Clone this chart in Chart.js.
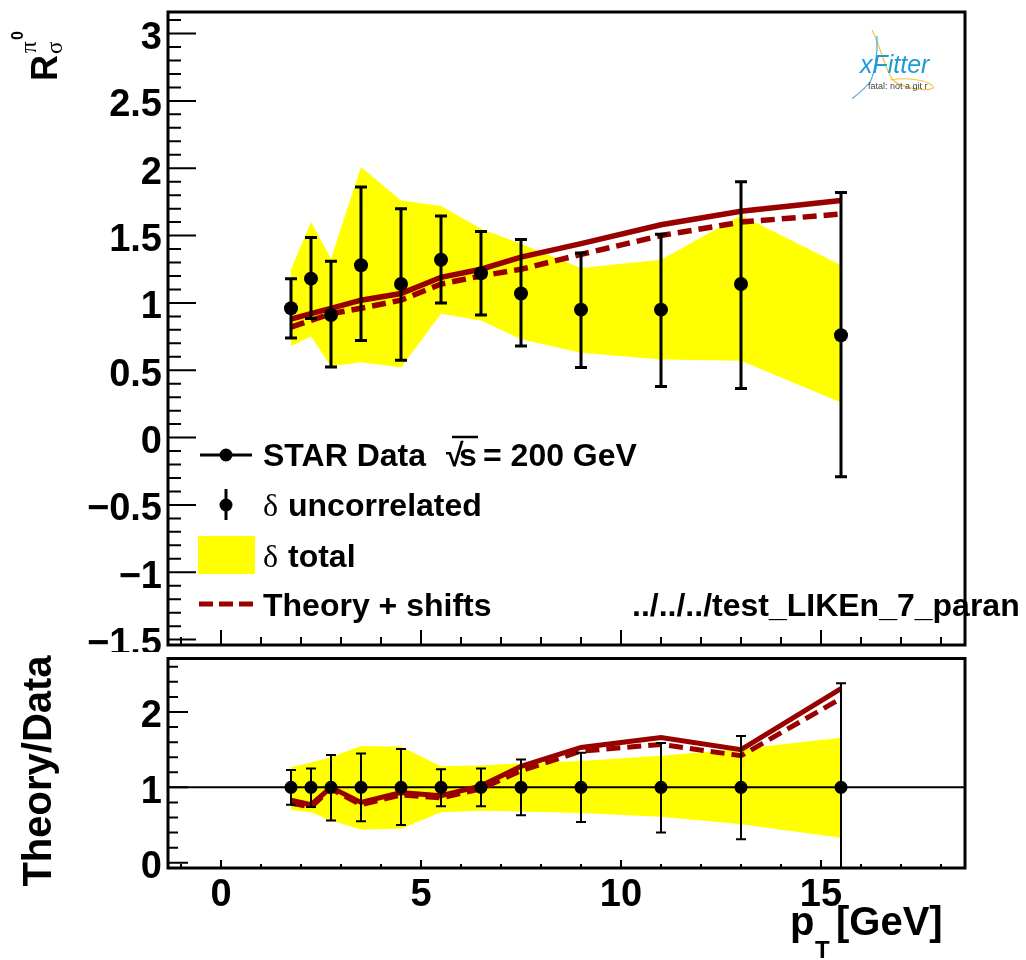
<!DOCTYPE html>
<html>
<head>
<meta charset="utf-8">
<script src="https://cdn.jsdelivr.net/npm/chart.js@4.4.0/dist/chart.umd.min.js"></script>
<style>
body { margin: 0; background: #fff; }
#wrap { position: relative; width: 1026px; height: 960px; overflow: hidden; }
canvas { position: absolute; left: 0; }
</style>
</head>
<body>
<div id="wrap">
<canvas id="topChart" width="1026" height="652" style="top:0"></canvas>
<canvas id="ratioChart" width="1026" height="308" style="top:652px"></canvas>
</div>
<script>
// pT bins [GeV]
const pT = [1.75, 2.25, 2.75, 3.5, 4.5, 5.5, 6.5, 7.5, 9, 11, 13, 15.5];

// upper panel
const dataVal = [0.96, 1.18, 0.91, 1.28, 1.14, 1.32, 1.22, 1.07, 0.95, 0.95, 1.14, 0.76];
const uncHi = [1.18, 1.485, 1.31, 1.86, 1.70, 1.645, 1.53, 1.47, 1.37, 1.51, 1.90, 1.82];
const uncLo = [0.74, 0.885, 0.525, 0.72, 0.575, 1.0, 0.91, 0.68, 0.52, 0.38, 0.365, -0.29];
const totHi = [1.25, 1.60, 1.33, 2.01, 1.76, 1.72, 1.55, 1.44, 1.26, 1.32, 1.65, 1.28];
const totLo = [0.68, 0.75, 0.53, 0.56, 0.52, 0.92, 0.87, 0.73, 0.63, 0.58, 0.57, 0.26];
const theory = [0.88, 0.92, 0.96, 1.02, 1.07, 1.19, 1.25, 1.34, 1.44, 1.58, 1.68, 1.76];
const theoryShift = [0.82, 0.87, 0.92, 0.96, 1.02, 1.14, 1.20, 1.25, 1.36, 1.50, 1.60, 1.66];

// ratio panel (theory/data)
const ratioVal = [1, 1, 1, 1, 1, 1, 1, 1, 1, 1, 1, 1];
const ratioUncHi = [1.23, 1.25, 1.43, 1.45, 1.51, 1.24, 1.25, 1.37, 1.46, 1.59, 1.68, 2.38];
const ratioUncLo = [0.77, 0.74, 0.56, 0.55, 0.50, 0.75, 0.75, 0.63, 0.54, 0.40, 0.31, -0.39];
const ratioTotHi = [1.27, 1.33, 1.40, 1.55, 1.54, 1.28, 1.29, 1.32, 1.35, 1.42, 1.51, 1.66];
const ratioTotLo = [0.70, 0.67, 0.56, 0.44, 0.45, 0.67, 0.69, 0.68, 0.66, 0.61, 0.51, 0.33];
const ratioTheory = [0.83, 0.77, 1.0, 0.80, 0.93, 0.89, 1.02, 1.28, 1.53, 1.66, 1.50, 2.31];
const ratioTheoryShift = [0.79, 0.74, 0.98, 0.77, 0.90, 0.86, 0.98, 1.22, 1.48, 1.57, 1.42, 2.18];

// axes
const xRange = [-1.325, 18.6];
const xTicks = [0, 5, 10, 15];
const yRangeTop = [-1.54, 3.16];
const yTicksTop = [-1.5, -1, -0.5, 0, 0.5, 1, 1.5, 2, 2.5, 3];
const yRangeRatio = [-0.07, 2.71];
const yTicksRatio = [0, 1, 2];

const YELLOW = '#ffff00';
const DARKRED = '#990000';
const FONT = '"Liberation Sans", Arial, sans-serif';

const pts = (ys) => pT.map((x, i) => ({ x: x, y: ys[i] }));
const fmt = (v) => (v < 0 ? '\u2212' : '') + Math.abs(v);

// frame with ROOT-like inward ticks
const rootFrame = {
  id: 'rootFrame',
  afterDatasetsDraw(chart, args, o) {
    const ctx = chart.ctx, a = chart.chartArea;
    const xs = chart.scales.x, ys = chart.scales.y;
    ctx.save();
    ctx.strokeStyle = '#000';
    ctx.lineWidth = 2;
    ctx.beginPath();
    for (let v = Math.ceil(xs.min); v <= xs.max; v++) {
      const px = xs.getPixelForValue(v);
      const len = v % 5 === 0 ? o.xMajor : o.xMinor;
      ctx.moveTo(px, a.bottom);
      ctx.lineTo(px, a.bottom - len);
    }
    const n0 = Math.ceil(ys.min / o.yMinorStep - 1e-9);
    const n1 = Math.floor(ys.max / o.yMinorStep + 1e-9);
    for (let k = n0; k <= n1; k++) {
      const v = k * o.yMinorStep;
      const r = v / o.yMajorStep;
      const major = Math.abs(r - Math.round(r)) < 1e-6;
      const py = ys.getPixelForValue(v);
      ctx.moveTo(a.left, py);
      ctx.lineTo(a.left + (major ? o.yMajor : o.yMinor), py);
    }
    ctx.stroke();
    ctx.lineWidth = 3;
    ctx.strokeRect(a.left, a.top, a.right - a.left, a.bottom - a.top);
    ctx.restore();
  }
};

// vertical error bars under the data markers
const errorBars = {
  id: 'errorBars',
  beforeDatasetDraw(chart, args) {
    const ds = chart.data.datasets[args.index];
    if (!ds.errHi) return;
    const ctx = chart.ctx, a = chart.chartArea;
    const xs = chart.scales.x, ys = chart.scales.y;
    const cap = ds.errCap;
    ctx.save();
    ctx.beginPath();
    ctx.rect(a.left, a.top, a.right - a.left, a.bottom - a.top);
    ctx.clip();
    ctx.strokeStyle = '#000';
    ctx.lineWidth = ds.errWidth;
    ds.data.forEach((p, i) => {
      const x = xs.getPixelForValue(p.x);
      const yH = ys.getPixelForValue(ds.errHi[i]);
      const yL = ys.getPixelForValue(ds.errLo[i]);
      ctx.beginPath();
      ctx.moveTo(x, yL); ctx.lineTo(x, yH);
      ctx.moveTo(x - cap, yH); ctx.lineTo(x + cap, yH);
      ctx.moveTo(x - cap, yL); ctx.lineTo(x + cap, yL);
      ctx.stroke();
    });
    ctx.restore();
  }
};

// legend, titles and logo for the upper pad
const topDecor = {
  id: 'topDecor',
  afterDraw(chart) {
    const ctx = chart.ctx;
    ctx.save();
    ctx.fillStyle = '#000';
    ctx.strokeStyle = '#000';
    ctx.textBaseline = 'alphabetic';
    ctx.textAlign = 'left';

    // y title R_sigma^{pi0}
    ctx.save();
    ctx.translate(57, 81);
    ctx.rotate(-Math.PI / 2);
    ctx.font = 'bold 36px ' + FONT;
    ctx.fillText('R', 0, 0);
    ctx.font = '23px "Liberation Serif", serif';
    ctx.fillText('\u03c3', 27, 5);
    ctx.fillText('\u03c0', 28, -21);
    ctx.font = 'bold 16px ' + FONT;
    ctx.fillText('0', 41, -34);
    ctx.restore();

    // legend
    ctx.lineWidth = 3;
    ctx.beginPath(); ctx.moveTo(200, 455); ctx.lineTo(252, 455); ctx.stroke();
    ctx.beginPath(); ctx.arc(226, 455, 6.5, 0, Math.PI * 2); ctx.fill();
    ctx.font = 'bold 32px ' + FONT;
    ctx.fillText('STAR Data', 263, 466);
    ctx.fillText('\u221a', 446, 466);
    ctx.fillText('s', 459, 466);
    ctx.lineWidth = 2.5;
    ctx.beginPath(); ctx.moveTo(452, 437); ctx.lineTo(478, 437); ctx.stroke();
    ctx.fillText('= 200 GeV', 483, 466);

    ctx.lineWidth = 3;
    ctx.beginPath(); ctx.moveTo(226, 489); ctx.lineTo(226, 520); ctx.stroke();
    ctx.beginPath(); ctx.arc(226, 505, 6.5, 0, Math.PI * 2); ctx.fill();
    ctx.font = '32px "Liberation Serif", serif';
    ctx.fillText('\u03b4', 263, 516);
    ctx.font = 'bold 32px ' + FONT;
    ctx.fillText('uncorrelated', 288, 516);

    ctx.fillStyle = YELLOW;
    ctx.fillRect(198, 536, 57, 38);
    ctx.fillStyle = '#000';
    ctx.font = '32px "Liberation Serif", serif';
    ctx.fillText('\u03b4', 263, 567);
    ctx.font = 'bold 32px ' + FONT;
    ctx.fillText('total', 288, 567);

    ctx.strokeStyle = DARKRED;
    ctx.lineWidth = 5;
    ctx.setLineDash([14, 6]);
    ctx.beginPath(); ctx.moveTo(199, 604); ctx.lineTo(255, 604); ctx.stroke();
    ctx.setLineDash([]);
    ctx.fillText('Theory + shifts', 263, 616);
    ctx.fillText('../../../test_LIKEn_7_paran', 632, 616);

    // xFitter logo
    ctx.lineWidth = 1.2;
    ctx.strokeStyle = '#f5c342';
    ctx.beginPath();
    ctx.moveTo(872, 30);
    ctx.bezierCurveTo(880, 45, 885, 70, 893, 80);
    ctx.bezierCurveTo(905, 92, 945, 92, 930, 84);
    ctx.bezierCurveTo(920, 78, 900, 78, 890, 80);
    ctx.stroke();
    ctx.strokeStyle = '#3fa9e0';
    ctx.beginPath();
    ctx.moveTo(877, 36);
    ctx.bezierCurveTo(878, 55, 874, 75, 870, 82);
    ctx.bezierCurveTo(862, 92, 850, 100, 853, 98);
    ctx.stroke();
    ctx.fillStyle = '#1e9ad6';
    ctx.font = 'italic 25px ' + FONT;
    ctx.fillText('xFitter', 860, 73);
    ctx.fillStyle = '#444';
    ctx.font = '9px ' + FONT;
    ctx.fillText('fatal: not a git r', 868, 89);
    ctx.restore();
  }
};

// titles for the ratio pad
const ratioDecor = {
  id: 'ratioDecor',
  afterDraw(chart) {
    const ctx = chart.ctx;
    ctx.save();
    ctx.fillStyle = '#000';
    ctx.textBaseline = 'alphabetic';
    ctx.save();
    ctx.translate(51, 119);
    ctx.rotate(-Math.PI / 2);
    ctx.textAlign = 'center';
    ctx.font = 'bold 40px ' + FONT;
    ctx.fillText('Theory/Data', 0, 0);
    ctx.restore();
    ctx.textAlign = 'left';
    ctx.font = 'bold 40px ' + FONT;
    ctx.fillText('p', 790, 283);
    ctx.font = 'bold 24px ' + FONT;
    ctx.fillText('T', 815, 306);
    ctx.font = 'bold 40px ' + FONT;
    ctx.fillText('[GeV]', 836, 283);
    ctx.restore();
  }
};

function zeroPad(s) {
  s.paddingTop = 0; s.paddingBottom = 0; s.paddingLeft = 0; s.paddingRight = 0;
}

function yAxis(range, ticks) {
  return {
    type: 'linear',
    min: range[0],
    max: range[1],
    afterFit: (s) => { s.width = 168; zeroPad(s); },
    afterBuildTicks: (s) => { s.ticks = ticks.map(v => ({ value: v })); },
    grid: { display: false, drawTicks: false },
    border: { display: false },
    ticks: {
      autoSkip: false,
      padding: 6,
      labelOffset: 5,
      color: '#000',
      font: { family: FONT, size: 38, weight: 'bold' },
      callback: fmt
    }
  };
}

function xAxis(show) {
  return {
    type: 'linear',
    display: show,
    min: xRange[0],
    max: xRange[1],
    afterFit: (s) => { s.height = show ? 92 : 0; zeroPad(s); },
    afterBuildTicks: (s) => { s.ticks = xTicks.map(v => ({ value: v })); },
    grid: { display: false, drawTicks: false },
    border: { display: false },
    ticks: {
      autoSkip: false,
      maxRotation: 0,
      padding: 5,
      color: '#000',
      font: { family: FONT, size: 38, weight: 'bold' },
      callback: fmt
    }
  };
}

const baseOpts = {
  responsive: false,
  animation: false,
  events: [],
  plugins: { legend: { display: false }, tooltip: { enabled: false } }
};

new Chart(document.getElementById('topChart').getContext('2d'), {
  type: 'line',
  data: {
    datasets: [
      { data: pts(totLo), borderWidth: 0, borderColor: 'rgba(0,0,0,0)', pointRadius: 0, fill: false, order: 5 },
      { data: pts(totHi), borderWidth: 0, borderColor: 'rgba(0,0,0,0)', pointRadius: 0, fill: '-1', backgroundColor: YELLOW, order: 5 },
      { data: pts(theory), borderColor: DARKRED, borderWidth: 5.5, pointRadius: 0, fill: false, order: 3 },
      { data: pts(theoryShift), borderColor: DARKRED, borderWidth: 5.5, borderDash: [14, 7], pointRadius: 0, fill: false, order: 2 },
      { data: pts(dataVal), showLine: false, pointRadius: 7, pointBackgroundColor: '#000', pointBorderWidth: 0,
        errHi: uncHi, errLo: uncLo, errWidth: 3, errCap: 6, order: 1 }
    ]
  },
  options: Object.assign({}, baseOpts, {
    layout: { padding: { top: 12, right: 61, bottom: 1, left: 0 } },
    plugins: Object.assign({}, baseOpts.plugins, {
      rootFrame: { xMajor: 15, xMinor: 8, yMajor: 28, yMinor: 13, yMajorStep: 0.5, yMinorStep: 0.1 }
    }),
    scales: { x: xAxis(false), y: yAxis(yRangeTop, yTicksTop) }
  }),
  plugins: [errorBars, rootFrame, topDecor]
});

new Chart(document.getElementById('ratioChart').getContext('2d'), {
  type: 'line',
  data: {
    datasets: [
      { data: pts(ratioTotLo), borderWidth: 0, borderColor: 'rgba(0,0,0,0)', pointRadius: 0, fill: false, order: 5 },
      { data: pts(ratioTotHi), borderWidth: 0, borderColor: 'rgba(0,0,0,0)', pointRadius: 0, fill: '-1', backgroundColor: YELLOW, order: 5 },
      { data: [{ x: xRange[0], y: 1 }, { x: xRange[1], y: 1 }], borderColor: '#000', borderWidth: 2, pointRadius: 0, fill: false, order: 4 },
      { data: pts(ratioTheory), borderColor: DARKRED, borderWidth: 5, pointRadius: 0, fill: false, order: 3 },
      { data: pts(ratioTheoryShift), borderColor: DARKRED, borderWidth: 5, borderDash: [14, 7], pointRadius: 0, fill: false, order: 2 },
      { data: pts(ratioVal), showLine: false, pointRadius: 6.5, pointBackgroundColor: '#000', pointBorderWidth: 0,
        errHi: ratioUncHi, errLo: ratioUncLo, errWidth: 2, errCap: 5, order: 1 }
    ]
  },
  options: Object.assign({}, baseOpts, {
    layout: { padding: { top: 5, right: 61, bottom: 0, left: 0 } },
    plugins: Object.assign({}, baseOpts.plugins, {
      rootFrame: { xMajor: 8, xMinor: 4, yMajor: 20, yMinor: 10, yMajorStep: 1, yMinorStep: 0.2 }
    }),
    scales: { x: xAxis(true), y: yAxis(yRangeRatio, yTicksRatio) }
  }),
  plugins: [errorBars, rootFrame, ratioDecor]
});
</script>
</body>
</html>
